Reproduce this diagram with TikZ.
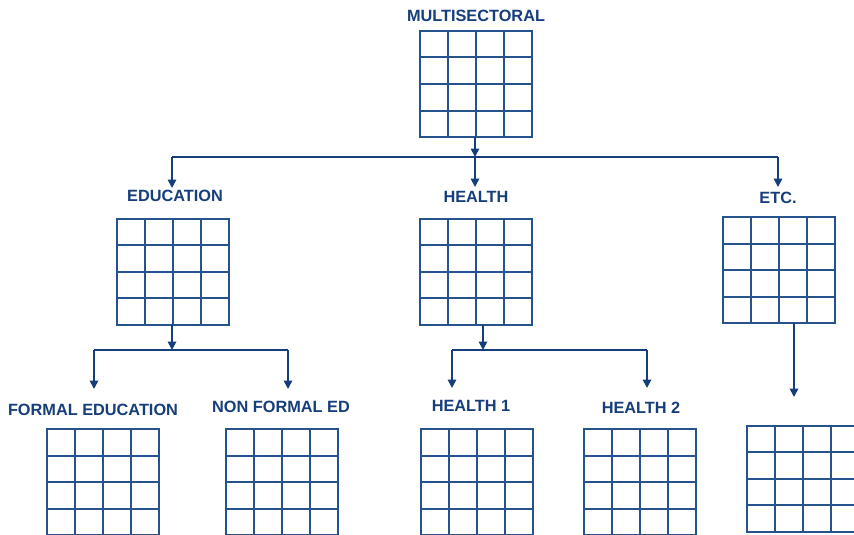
\documentclass[tikz,border=0pt]{standalone}
\usepackage{fontspec}
\setmainfont{Liberation Sans}
\usetikzlibrary{arrows.meta,calc}
\definecolor{navy}{RGB}{22,62,122}
\definecolor{gridblue}{RGB}{38,82,142}
\tikzset{
  gridline/.style={draw=gridblue, line width=2pt},
  gridbox/.style={gridline, minimum width=112pt, minimum height=106pt,
    inner sep=0pt, outer sep=0pt,
    path picture={
      \foreach \k in {1,2,3}{
        \draw[gridline] ($(path picture bounding box.north west)!\k/4!(path picture bounding box.north east)$)
          -- ($(path picture bounding box.south west)!\k/4!(path picture bounding box.south east)$);
        \draw[gridline] ($(path picture bounding box.north west)!\k/4!(path picture bounding box.south west)$)
          -- ($(path picture bounding box.north east)!\k/4!(path picture bounding box.south east)$);
      }}},
  lbl/.style={text=navy, font=\bfseries\fontsize{16.3}{19}\selectfont, inner sep=0pt},
  conn/.style={draw=navy, line width=1.7pt},
  arr/.style={conn, -{Triangle[width=8.5pt,length=8.5pt]}},
}
\begin{document}
\begin{tikzpicture}[x=1pt,y=-1pt]
\useasboundingbox (0,0) rectangle (854,535);
\clip (0,0) rectangle (854,535);
\fill[white] (0,0) rectangle (854,535);

% grids
\node[gridbox] (top) at (476,84) {};
\node[gridbox] (edu) at (173,271.5) {};
\node[gridbox] (hea) at (476,271.5) {};
\node[gridbox] (etc) at (779,270) {};
\node[gridbox] (fe) at (102.5,482) {};
\node[gridbox] (nfe) at (281.5,482) {};
\node[gridbox] (h1) at (476.5,482) {};
\node[gridbox] (h2) at (639.5,482) {};
\node[gridbox] (etcsub) at (803,478.5) {};

% labels
\node[lbl] (ltop) at (476,15.5) {MULTISECTORAL};
\node[lbl] (ledu) at (175,196) {EDUCATION};
\node[lbl] (lhea) at (476,197) {HEALTH};
\node[lbl] (letc) at (778,198) {ETC.};
\node[lbl] (lfe) at (93,410) {FORMAL EDUCATION};
\node[lbl] (lnfe) at (281,406.5) {NON FORMAL ED};
\node[lbl] (lh1) at (471,406) {HEALTH 1};
\node[lbl] (lh2) at (641,408) {HEALTH 2};

% connector coordinates
\coordinate (b1l) at (172,157);
\coordinate (b1m) at (475,157);
\coordinate (b1r) at (778,157);
\coordinate (t1) at (172,188);
\coordinate (t2) at (475,187);
\coordinate (t3) at (778,187);
\coordinate (b2l) at (94,350);
\coordinate (b2m) at (172,350);
\coordinate (b2r) at (288,350);
\coordinate (t4) at (94,389);
\coordinate (t5) at (288,389);
\coordinate (b3l) at (452,350);
\coordinate (b3m) at (483,350);
\coordinate (b3r) at (647,350);
\coordinate (t6) at (452,388);
\coordinate (t7) at (647,388);
\coordinate (t8) at (794,397);

% level 1
\draw[arr] (top.south -| b1m) -- (b1m);
\draw[conn] (b1l) -- (b1r);
\draw[arr] (b1l) -- (t1);
\draw[arr] (b1m) -- (t2);
\draw[arr] (b1r) -- (t3);

% education branch
\draw[arr] (edu.south -| b2m) -- (b2m);
\draw[conn] (b2l) -- (b2r);
\draw[arr] (b2l) -- (t4);
\draw[arr] (b2r) -- (t5);

% health branch
\draw[arr] (hea.south -| b3m) -- (b3m);
\draw[conn] (b3l) -- (b3r);
\draw[arr] (b3l) -- (t6);
\draw[arr] (b3r) -- (t7);

% etc branch
\draw[arr] (etc.south -| t8) -- (t8);
\end{tikzpicture}
\end{document}
